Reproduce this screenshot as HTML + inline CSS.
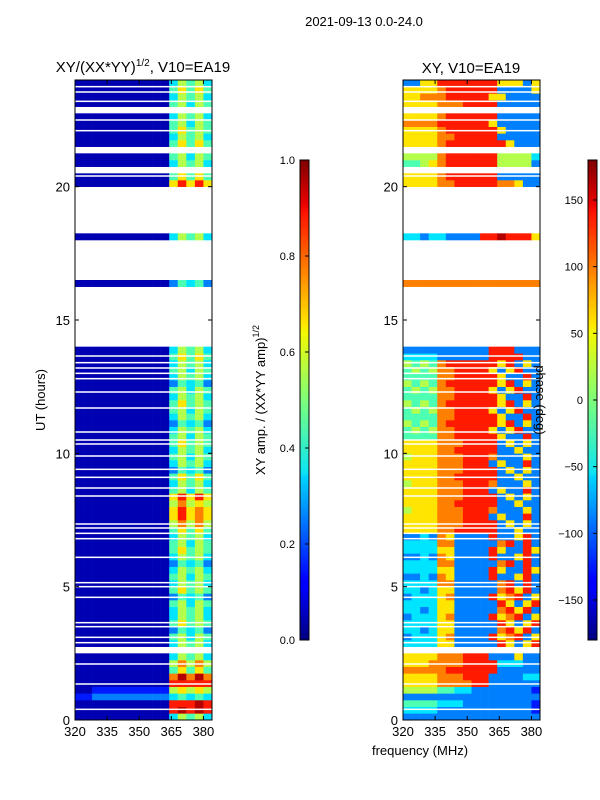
<!DOCTYPE html>
<html><head><meta charset="utf-8"><style>
html,body{margin:0;padding:0;background:#fff;}
svg{display:block;font-family:"Liberation Sans","DejaVu Sans",sans-serif;}
</style></head><body>
<svg id="fig" width="600" height="800" viewBox="0 0 600 800">
<defs>
<linearGradient id="jet" x1="0" y1="1" x2="0" y2="0">
<stop offset="0" stop-color="#00007f"/><stop offset="0.11" stop-color="#0000ff"/>
<stop offset="0.125" stop-color="#0000ff"/><stop offset="0.34" stop-color="#00d4ff"/>
<stop offset="0.35" stop-color="#0de5f2"/><stop offset="0.5" stop-color="#7dff7a"/>
<stop offset="0.64" stop-color="#f4f802"/><stop offset="0.66" stop-color="#ffe500"/>
<stop offset="0.89" stop-color="#ff1300"/><stop offset="0.91" stop-color="#e80000"/>
<stop offset="1" stop-color="#7f0000"/>
</linearGradient>
</defs>
<text x="364" y="26" font-size="13" text-anchor="middle">2021-09-13 0.0-24.0</text>
<g id="left"></g>
<g id="right"></g>
<g id="cb1"></g>
<g id="cb2"></g>
<text x="143" y="72" font-size="15" text-anchor="middle">XY/(XX*YY)<tspan font-size="10" dy="-6">1/2</tspan><tspan dy="6">, V10=EA19</tspan></text>
<text x="471" y="73" font-size="15" text-anchor="middle">XY, V10=EA19</text>
<text transform="translate(45,400) rotate(-90)" font-size="13" text-anchor="middle">UT (hours)</text>
<text x="420" y="755" font-size="13" text-anchor="middle">frequency (MHz)</text>
<text transform="translate(265,400) rotate(-90)" font-size="13" text-anchor="middle">XY amp. / (XX*YY amp)<tspan font-size="9" dy="-6">1/2</tspan></text>
<text transform="translate(536,400) rotate(90)" font-size="13" text-anchor="middle">phase (deg)</text>
</svg>
<script>
const NS="http://www.w3.org/2000/svg";
// data: 96 time rows of 0.25 h, 16 frequency channels of 4 MHz (320-384)
const flaggedRows=[10,56,57,58,59,60,61,62,63,64,66,67,68,69,70,71,73,74,75,76,77,78,79,82,85,91];
const thinFlags=[0.4,1.35,2.1,2.9,3.1,3.5,3.65,4.6,5.0,5.15,6.1,6.8,7.0,7.2,7.35,8.4,8.7,9.1,9.4,9.9,10.35,10.5,10.8,11.7,12.3,12.8,13.0,13.2,13.4,13.65,17.8,20.4,22.1,22.5,23.2,23.55,23.75];
const ampLevels=["0000000000035453","0000000000089898","0000000000088898","1122222222234343","0011111111156565","0000000000088888","0000000000079797","0000000000046464","0000000000057575","0000000000035453","x",
"0000000000035453","0000000000045354","0000000000024342","0000000000046454","0000000000035453","0000000000035453","0000000000045354","0000000000024342","0000000000046454","0000000000035453",
"0000000000045354","0000000000035453","0000000000024342","0000000000035453","0000000000046454","0000000000045354","0000000000035453","0000000000046464","0000000000057575","0000000000068676",
"0000000000068676","0000000000057565","0000000000068686","0000000000045354","0000000000035453","0000000000046464","0000000000024342","0000000000035453","0000000000045354","0000000000035453",
"0000000000046454","0000000000045354","0000000000035453","0000000000024342","0000000000035453","0000000000045354","0000000000046454","0000000000035453","0000000000045354","0000000000024342",
"0000000000035453","0000000000045354","0000000000035453","0000000000046464","0000000000035453",
"x","x","x","x","x","x","x","x","x","0000000000024342","x","x","x","x","x","x","0000000000035453",
"x","x","x","x","x","x","x","0000000000068686","0000000000046464","x","0000000000035453","0000000000045354","x",
"0000000000046464","0000000000035453","0000000000046454","0000000000045354","0000000000035453","x","0000000000045354","0000000000035453","0000000000046464","0000000000035453"];
const phaseLevels=["2222222222222222","3333222222222221","4444333222222221","2222222222222222","5555443322222221","6666777788222222","6666777888222233","7777788888822222","6667777888833322","6666777888222622","x",
"3333662222286268","2333672222867826","3323662222278682","3333662222286268","2333672222867826","3323662222278682","3333662222286268","2333672222867826","3323662222278682",
"3333772222278282","2232762222822682","3333662222862286","3333772222278282","2232762222822682","3333662222862286","3333772222278282","2232762222822682",
"6666778888822622","6666777888826262","6666777888262282","5666777888722262","6666778888822622","6666777888826262","6666777888262282","5666777888722262","6666778888822622","6666777888826262","6666777888262282","5666777888722262","6666778888822622","6666777888826262",
"4444778888862282","4545778888626822","5454788888868262","4444778888862282","4545778888626822","5454788888868262","4444778888862282","4545778888626822","5454788888868262","4444778888862282","4545778888626822","5454788888868262","3333222222888822",
"2222222222888222",
"x","x","x","x","x","x","x","x","x","7777777777777777","x","x","x","x","x","x","3323322228898886",
"x","x","x","x","x","x","x","6666778888877622","6666788888822222","x","4456788888855552","5555788888855553","x",
"6666788888886222","6666778888822222","6666788888862222","7777888888622222","6666788888822222","x","6666777888822222","6677788888662222","6666788888822226","2266888888866626"];
const freqTicks=[320,335,350,365,380];
const timeTicks=[0,5,10,15,20];
const ampTicks=[0.0,0.2,0.4,0.6,0.8,1.0];
const phaseTicks=[-150,-100,-50,0,50,100,150];

function jet(t){t=Math.max(0,Math.min(1,t));
 const r=Math.max(0,Math.min(1,1.5-Math.abs(4*t-3))),g=Math.max(0,Math.min(1,1.5-Math.abs(4*t-2))),b=Math.max(0,Math.min(1,1.5-Math.abs(4*t-1)));
 return `rgb(${Math.round(r*255)},${Math.round(g*255)},${Math.round(b*255)})`;}
const yT=h=>720-(h/24)*640;
function mk(tag,attrs,parent){const e=document.createElementNS(NS,tag);for(const k in attrs)e.setAttribute(k,attrs[k]);parent.appendChild(e);return e;}
function panel(gid,x0,levels){
 const g=document.getElementById(gid);
 const xF=f=>x0+(f-320)/64*137;
 levels.forEach((row,i)=>{
  if(row==="x"||flaggedRows.includes(i))return;
  for(let c=0;c<16;c++){
   const v=(+row[c]+0.5)/10;
   const r=mk('rect',{x:xF(320+c*4).toFixed(2),y:yT((i+1)*0.25).toFixed(2),width:(137/16+0.3).toFixed(2),height:(640/96+0.3).toFixed(2),fill:jet(v)},g);
   
   
  }});
 thinFlags.forEach(h=>{const l=mk('rect',{x:x0,y:yT(h)-0.75,width:137,height:1.5,fill:'#fff'},g);
  
  });
 const fr=mk('rect',{x:x0,y:80,width:137,height:640,fill:'none',stroke:'#000','stroke-width':1},g);
 
 
 freqTicks.forEach(f=>{const x=xF(f);
  mk('line',{x1:x,y1:720,x2:x,y2:716,stroke:'#000'},g);mk('line',{x1:x,y1:80,x2:x,y2:84,stroke:'#000'},g);
  const t=mk('text',{x:x,y:736,'font-size':13,'text-anchor':'middle'},g);t.textContent=f;
  
  });
 timeTicks.forEach(h=>{const y=yT(h);
  mk('line',{x1:x0,y1:y,x2:x0+4,y2:y,stroke:'#000'},g);mk('line',{x1:x0+137,y1:y,x2:x0+133,y2:y,stroke:'#000'},g);
  const t=mk('text',{x:x0-5,y:y+5,'font-size':13,'text-anchor':'end'},g);t.textContent=h;
  
  });
}
panel('left',75,ampLevels);
panel('right',403,phaseLevels);
function cbar(gid,x0,ticks,lo,hi,fmt){
 const g=document.getElementById(gid);
 const r=mk('rect',{x:x0,y:160,width:9,height:480,fill:'url(#jet)',stroke:'#000','stroke-width':1},g);
 
 
 ticks.forEach(v=>{const y=640-(v-lo)/(hi-lo)*480;
  mk('line',{x1:x0+9,y1:y,x2:x0+5,y2:y,stroke:'#000'},g);
  const t=mk('text',{x:x0-5,y:y+4,'font-size':11,'text-anchor':'end'},g);t.textContent=fmt(v);
  
  });
}
cbar('cb1',300,ampTicks,0,1,v=>v.toFixed(1));
cbar('cb2',588,phaseTicks,-180,180,v=>v<0?'\u2212'+(-v):''+v);
</script>
</body></html>
